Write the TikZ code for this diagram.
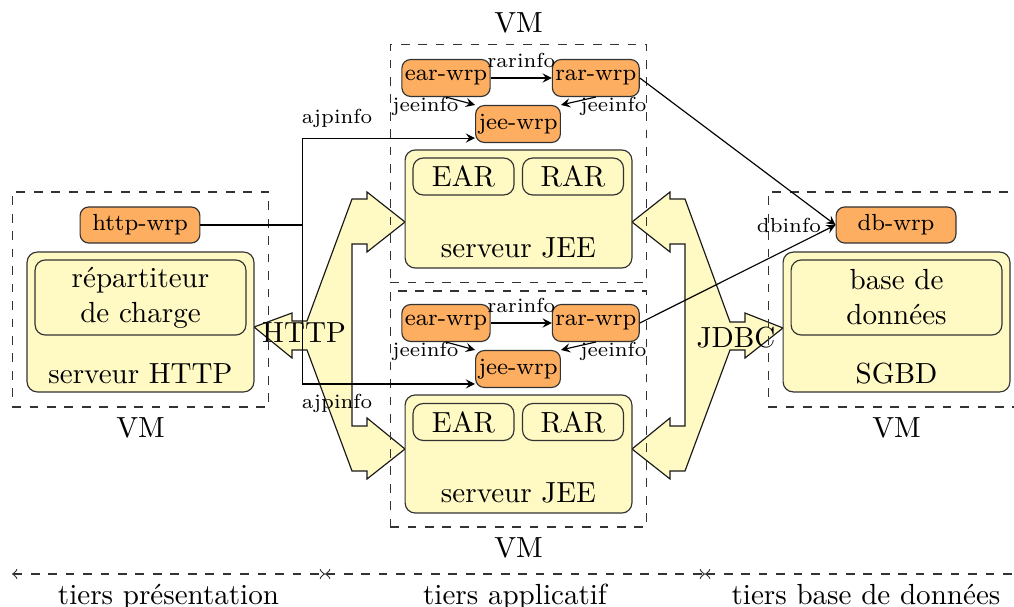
\documentclass[tikz,border=0pt]{standalone}
\usetikzlibrary{positioning}
\definecolor{wrporange}{RGB}{253,174,97}
\definecolor{boxyellow}{RGB}{255,249,196}
\begin{document}
\begin{tikzpicture}[x=0.01208cm, y=-0.01208cm, >=stealth,
wrpnode/.style={rectangle, rounded corners=3pt, draw=black!80, fill=wrporange, font=\footnotesize, inner sep=1pt, minimum width=28.5pt, minimum height=12.7pt},
serverbox/.style={rectangle, rounded corners=3.5pt, draw=black!80, fill=boxyellow, minimum width=78pt},
innerbox/.style={rectangle, rounded corners=3.5pt, draw=black!80, fill=boxyellow, align=center, inner sep=1pt},
vmbox/.style={rectangle, draw=black!80, dashed, minimum width=88.3pt},
fatarrow/.style={draw=black!90, fill=boxyellow},
lbl/.style={font=\scriptsize},
tierline/.style={draw=black!80, dashed, <->, >=to},
]
\useasboundingbox (0,0) rectangle (1014,607);

%Fat arrows
\filldraw[fatarrow] (254,327) -- (292,313) -- (292,321) -- (307,321) -- (352,199) -- (367,199) -- (367,192) -- (405,222) -- (367,252) -- (367,244) -- (352,244) -- (352,426) -- (367,426) -- (367,418) -- (405,449) -- (367,479) -- (367,471) -- (352,471) -- (307,350) -- (292,350) -- (292,358) -- cycle;
\filldraw[fatarrow] (783,328) -- (745,313) -- (745,322) -- (730,322) -- (685,199) -- (670,199) -- (670,192) -- (632,222) -- (670,252) -- (670,244) -- (685,244) -- (685,426) -- (670,426) -- (670,418) -- (632,449) -- (670,479) -- (670,471) -- (685,471) -- (730,350) -- (745,350) -- (745,358) -- cycle;
\node (httplbl) at (304,333) {HTTP};
\node (jdbclbl) at (736,338) {JDBC};

%VM boxes
\node[vmbox, minimum height=73.9pt, label=below:VM] (vmhttp) at (140.5,299.5) {};
\node[vmbox, minimum height=82.1pt, label=above:VM] (vmjeeA) at (518.5,163.5) {};
\node[vmbox, minimum height=81.1pt, label=below:VM] (vmjeeB) at (518.5,409) {};
\node[vmbox, minimum height=73.9pt, label=below:VM] (vmdb) at (896.5,299.5) {};

%Nodes
\node[wrpnode, minimum width=41.2pt, minimum height=12.4pt] (httpwrp) at (140,225) {http-wrp};
\node[serverbox, minimum height=48.1pt] (srvhttp) at (140.5,322) {};
\node[innerbox, minimum width=72.5pt, minimum height=25.8pt] (lb) at (140.5,297.5) {répartiteur\\de charge};
\node (srvhttptxt) at (140.5,374) {serveur HTTP};

\node[wrpnode] (earA) at (446,78) {ear-wrp};
\node[wrpnode, right=21pt of earA] (rarA) {rar-wrp};
\node[wrpnode] (jeeA) at (518,124) {jee-wrp};
\node[serverbox, minimum height=40.6pt] (srvjeeA) at (518.5,209) {};
\node[innerbox, minimum width=34.7pt, minimum height=12.7pt] (earboxA) at (463.5,176.5) {EAR};
\node[innerbox, minimum width=34.7pt, minimum height=12.7pt] (rarboxA) at (573,176.5) {RAR};
\node (srvjeeAtxt) at (518.5,248) {serveur JEE};

\node[wrpnode] (earB) at (446,323) {ear-wrp};
\node[wrpnode, right=21pt of earB] (rarB) {rar-wrp};
\node[wrpnode] (jeeB) at (518,369) {jee-wrp};
\node[serverbox, minimum height=40.6pt] (srvjeeB) at (518.5,454) {};
\node[innerbox, minimum width=34.7pt, minimum height=12.7pt] (earboxB) at (463.5,422) {EAR};
\node[innerbox, minimum width=34.7pt, minimum height=12.7pt] (rarboxB) at (573,422) {RAR};
\node (srvjeeBtxt) at (518.5,493) {serveur JEE};

\node[wrpnode, minimum width=41.2pt, minimum height=12.4pt] (dbwrp) at (896,225) {db-wrp};
\node[serverbox, minimum height=48.1pt] (srvdb) at (896.5,322) {};
\node[innerbox, minimum width=72.5pt, minimum height=25.8pt] (db) at (896.5,297.5) {base de\\données};
\node (srvdbtxt) at (896.5,374) {SGBD};

%Lines
\draw[->] (earA) -- node[lbl, above] {rarinfo} (rarA);
\draw[->] (earA.south) -- node[lbl, left, inner sep=0.5pt, yshift=-1.8pt] {jeeinfo} (jeeA.north west);
\draw[->] (rarA.south) -- node[lbl, right, inner sep=0.5pt, yshift=-1.8pt] {jeeinfo} (jeeA.north east);
\draw[->] (earB) -- node[lbl, above] {rarinfo} (rarB);
\draw[->] (earB.south) -- node[lbl, left, inner sep=0.5pt, yshift=-1.8pt] {jeeinfo} (jeeB.north west);
\draw[->] (rarB.south) -- node[lbl, right, inner sep=0.5pt, yshift=-1.8pt] {jeeinfo} (jeeB.north east);

\draw[->] (httpwrp.east) -- ++(102,0) |- node[lbl, above, pos=0.6] {ajpinfo} ([yshift=1.7pt]jeeA.south west);
\draw[->] (httpwrp.east) -- ++(102,0) |- node[lbl, below, pos=0.6] {ajpinfo} ([yshift=1.4pt]jeeB.south west);

\draw[->] (rarA.east) -- (dbwrp.west);
\draw[->] (rarB.east) -- node[lbl, pos=1, left, xshift=-1.5pt] {dbinfo} (dbwrp.west);

%Tiers
\coordinate (t0) at (12,574);
\coordinate (t1) at (325,574);
\coordinate (t2) at (705,574);
\coordinate (t3) at (1027,574);
\draw[tierline] (t0) -- node[below] {tiers présentation} (t1);
\draw[tierline] (t1) -- node[below] {tiers applicatif} (t2);
\draw[tierline] (t2) -- node[below] {tiers base de données} (t3);
\end{tikzpicture}
\end{document}
